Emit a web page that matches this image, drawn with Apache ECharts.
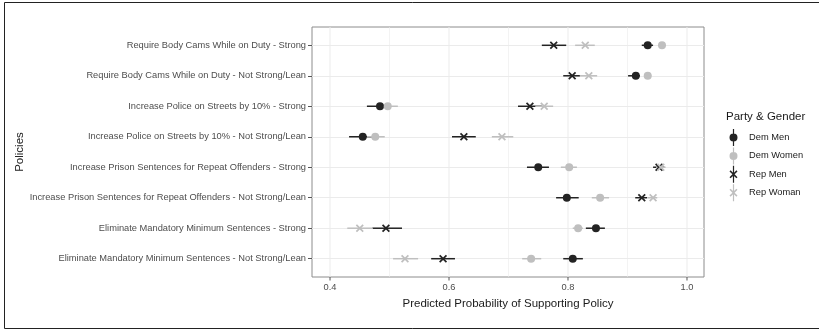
<!DOCTYPE html>
<html>
<head>
<meta charset="utf-8">
<script src="https://cdn.jsdelivr.net/npm/echarts@6/dist/echarts.min.js"></script>
<style>
  html, body { margin: 0; padding: 0; background: #fff; }
  #chart { width: 819px; height: 331px; }
</style>
</head>
<body>
<div id="chart"></div>
<script>
const policies = [
  'Require Body Cams While on Duty - Strong',
  'Require Body Cams While on Duty - Not Strong/Lean',
  'Increase Police on Streets by 10% - Strong',
  'Increase Police on Streets by 10% - Not Strong/Lean',
  'Increase Prison Sentences for Repeat Offenders - Strong',
  'Increase Prison Sentences for Repeat Offenders - Not Strong/Lean',
  'Eliminate Mandatory Minimum Sentences - Strong',
  'Eliminate Mandatory Minimum Sentences - Not Strong/Lean'
]

const groups = ['Dem Men', 'Dem Women', 'Rep Men', 'Rep Woman']

const demMen = [0.934, 0.914, 0.484, 0.455, 0.750, 0.798, 0.847, 0.808]
const demMenLo = [0.924, 0.901, 0.462, 0.432, 0.731, 0.780, 0.830, 0.792]
const demMenHi = [0.943, 0.921, 0.496, 0.478, 0.768, 0.818, 0.862, 0.825]

const demWomen = [0.958, 0.934, 0.497, 0.476, 0.802, 0.854, 0.817, 0.738]
const demWomenLo = [0.952, 0.928, 0.480, 0.462, 0.788, 0.840, 0.808, 0.723]
const demWomenHi = [0.964, 0.940, 0.514, 0.492, 0.815, 0.869, 0.825, 0.755]

const repMen = [0.776, 0.807, 0.736, 0.625, 0.953, 0.924, 0.494, 0.590]
const repMenLo = [0.756, 0.792, 0.716, 0.605, 0.943, 0.913, 0.471, 0.570]
const repMenHi = [0.797, 0.820, 0.756, 0.645, 0.962, 0.933, 0.521, 0.610]

const repWoman = [0.829, 0.835, 0.760, 0.689, 0.956, 0.943, 0.450, 0.526]
const repWomanLo = [0.812, 0.820, 0.745, 0.672, 0.948, 0.934, 0.429, 0.506]
const repWomanHi = [0.845, 0.849, 0.775, 0.708, 0.964, 0.950, 0.472, 0.548]

const xMajor = [0.4, 0.6, 0.8, 1.0]
const xMinor = [0.5, 0.7, 0.9]

const X_MIN = 0.3697
const X_MAX = 1.0286
const Y_MIN = -0.6
const Y_MAX = 7.6

const DARK = '#232323'
const LIGHT = '#bfbfbf'
const GRID = '#ebebeb'
const FONT = '"Liberation Sans", Arial, sans-serif'

const crossPath = 'path://M0,1.5L1.5,0L5,3.5L8.5,0L10,1.5L6.5,5L10,8.5L8.5,10L5,6.5L1.5,10L0,8.5L3.5,5Z'
// legend keys: glyph with the range line through it
const corners = 'M0,0L0.01,0L0,0.01ZM17,17L16.99,17L17,16.99Z'
const bar = 'M7.9,0L9.1,0L9.1,17L7.9,17Z'
const dotKey = 'path://' + corners + bar + 'M4.5,8.5A4,4 0 1,1 12.5,8.5A4,4 0 1,1 4.5,8.5Z'
const crossKey = 'path://' + corners + bar +
  'M4.5,5.6L5.6,4.5L8.5,7.4L11.4,4.5L12.5,5.6L9.6,8.5L12.5,11.4L11.4,12.5L8.5,9.6L5.6,12.5L4.5,11.4L7.4,8.5Z'

const rowIdx = policies.map((_, i) => i)

// vertical grid lines (and bottom ticks for the major ones)
const makeVLines = (values, width, withTick) => ({
  type: 'custom',
  silent: true,
  z: 0,
  data: values.map(v => [v]),
  encode: { x: 0 },
  renderItem: (params, api) => {
    const top = api.coord([api.value(0), Y_MIN])
    const bot = api.coord([api.value(0), Y_MAX])
    const children = [{
      type: 'line',
      shape: { x1: top[0], y1: top[1], x2: bot[0], y2: bot[1] },
      style: { stroke: GRID, lineWidth: width }
    }]
    if (withTick) {
      children.push({
        type: 'line',
        shape: { x1: bot[0], y1: bot[1], x2: bot[0], y2: bot[1] + 3.5 },
        style: { stroke: '#555', lineWidth: 1 }
      })
    }
    return { type: 'group', children }
  }
})

const makeBars = (name, lo, hi, color) => ({
  name: name + ' range',
  type: 'custom',
  encode: { x: [0, 1], y: 2 },
  data: rowIdx.map(i => [lo[i], hi[i], i]),
  renderItem: (params, api) => {
    const a = api.coord([api.value(0), api.value(2)])
    const b = api.coord([api.value(1), api.value(2)])
    return {
      type: 'line',
      shape: { x1: a[0], y1: a[1], x2: b[0], y2: b[1] },
      style: { stroke: color, lineWidth: 1.5 }
    }
  },
  silent: true
})

const makePoints = (name, est, color, symbol) => ({
  name: name,
  type: 'scatter',
  symbol: symbol,
  symbolSize: 8,
  itemStyle: { color: color, opacity: 1 },
  data: rowIdx.map(i => [est[i], i])
})

const chart = echarts.init(document.getElementById('chart'))

const option = {
  animation: false,
  textStyle: { fontFamily: FONT },
  grid: {
    left: 312,
    right: 115,
    top: 27,
    bottom: 54,
    show: true,
    borderColor: '#8c8c8c',
    borderWidth: 1,
    backgroundColor: 'transparent'
  },
  title: {
    text: 'Party & Gender',
    left: 721,
    top: 106,
    textStyle: { fontFamily: FONT, fontSize: 11.5, fontWeight: 'normal', color: '#1a1a1a' }
  },
  legend: {
    data: [
      { name: 'Dem Men', icon: dotKey },
      { name: 'Dem Women', icon: dotKey },
      { name: 'Rep Men', icon: crossKey },
      { name: 'Rep Woman', icon: crossKey }
    ],
    orient: 'vertical',
    left: 720,
    top: 124,
    itemWidth: 17,
    itemHeight: 17,
    itemGap: 1.4,
    selectedMode: false,
    textStyle: { fontFamily: FONT, fontSize: 9.3, color: '#1a1a1a', padding: [0, 0, 0, 2] }
  },
  xAxis: {
    type: 'value',
    min: X_MIN,
    max: X_MAX,
    name: 'Predicted Probability of Supporting Policy',
    nameLocation: 'middle',
    nameGap: 21,
    nameTextStyle: { fontFamily: FONT, fontSize: 11.5, color: '#1a1a1a' },
    axisLine: { show: false, onZero: false },
    axisTick: { show: false, customValues: xMajor },
    axisLabel: {
      customValues: xMajor,
      margin: 6,
      fontSize: 9.3,
      color: '#4d4d4d',
      formatter: v => v.toFixed(1)
    },
    splitLine: { show: false }
  },
  yAxis: {
    type: 'value',
    min: Y_MIN,
    max: Y_MAX,
    inverse: true,
    name: 'Policies',
    nameLocation: 'middle',
    nameRotate: 90,
    nameGap: 284,
    nameTextStyle: { fontFamily: FONT, fontSize: 11.5, color: '#1a1a1a' },
    axisLine: { show: false, onZero: false },
    axisTick: { show: true, length: 4, customValues: rowIdx, lineStyle: { color: '#555' } },
    axisLabel: {
      customValues: rowIdx,
      margin: 6,
      fontSize: 9.3,
      color: '#4d4d4d',
      formatter: v => policies[Math.round(v)]
    },
    splitLine: { show: true, lineStyle: { color: GRID, width: 1 } }
  },
  graphic: [
    {
      type: 'rect',
      shape: { x: 4.5, y: 2.5, width: 840, height: 326 },
      style: { fill: 'none', stroke: '#222', lineWidth: 1 },
      silent: true
    }
  ],
  series: [
    makeVLines(xMinor, 0.6, false),
    makeVLines(xMajor, 1, true),
    makeBars('Dem Men', demMenLo, demMenHi, DARK),
    makePoints('Dem Men', demMen, DARK, 'circle'),
    makeBars('Dem Women', demWomenLo, demWomenHi, LIGHT),
    makePoints('Dem Women', demWomen, LIGHT, 'circle'),
    makeBars('Rep Men', repMenLo, repMenHi, DARK),
    makePoints('Rep Men', repMen, DARK, crossPath),
    makeBars('Rep Woman', repWomanLo, repWomanHi, LIGHT),
    makePoints('Rep Woman', repWoman, LIGHT, crossPath)
  ]
}

chart.setOption(option)
</script>
</body>
</html>
